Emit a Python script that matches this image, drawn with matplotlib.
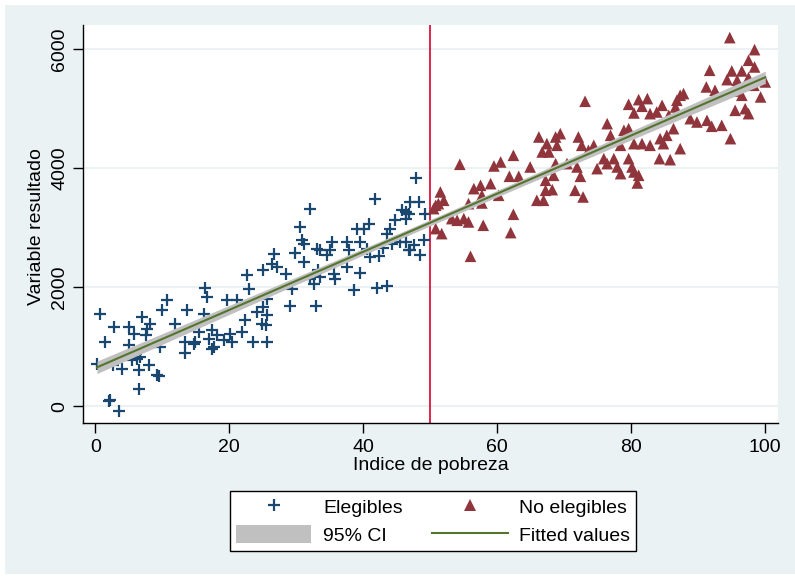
import numpy as np
import matplotlib
matplotlib.use('Agg')
import matplotlib.pyplot as plt
from matplotlib.lines import Line2D
from matplotlib.patches import Patch, Rectangle

plt.rcParams['font.family'] = ['Liberation Sans', 'DejaVu Sans']
plt.rcParams['font.size'] = 14

# observations below the cutoff (poverty index < 50)
ELIG_X = [47.9, 41.7, 32.1, 47.0, 48.3, 45.8, 46.3, 46.8, 44.8, 49.2, 46.3,
          30.6, 30.8, 31.2, 39.0, 40.1, 40.9, 44.0, 43.5, 35.3, 33.1, 33.6,
          34.6, 35.1, 37.6, 39.5, 37.8, 40.5, 29.8, 31.1, 26.6, 26.4, 27.1,
          25.0, 28.4, 22.6, 22.9, 41.0, 42.3, 43.0, 44.3, 45.5, 46.3, 47.5,
          46.8, 49.0, 48.4, 33.3, 33.6, 35.6, 35.8, 37.6, 39.5, 32.1, 32.6,
          38.6, 42.0, 43.5, 29.4, 29.1, 32.9, 16.3, 16.7, 19.7, 21.1, 25.6,
          25.0, 24.1, 22.4, 24.9, 25.6, 25.4, 10.7, 9.9, 13.7, 16.2, 11.9,
          15.4, 17.4, 16.9, 18.2, 19.2, 20.1, 20.4, 21.9, 23.5, 25.6, 17.7,
          17.4, 13.4, 14.7, 14.9, 13.4, 0.75, 2.8, 5.0, 7.0, 8.2, 7.7, 5.7,
          1.5, 7.5, 9.7, 5.0, 6.0, 5.5, 6.2, 6.7, 0.25, 2.7, 4.0, 6.5, 8.0,
          9.2, 9.45, 6.5, 2.2, 2.0, 3.6, 47.0]
ELIG_Y = [3830, 3490, 3311, 3434, 3434, 3294, 3266, 3238, 3126, 3238, 3154,
          3014, 2790, 2734, 2986, 2986, 3059, 2986, 2902, 2762, 2650, 2622,
          2538, 2622, 2762, 2762, 2622, 2650, 2577, 2426, 2566, 2398, 2342,
          2286, 2230, 2202, 1978, 2510, 2521, 2667, 2734, 2762, 2762, 2706,
          2633, 2790, 2549, 2286, 2174, 2230, 2146, 2342, 2241, 2146, 2062,
          1950, 1994, 2017, 1978, 1686, 1686, 1994, 1837, 1781, 1781, 1809,
          1669, 1585, 1445, 1389, 1529, 1361, 1781, 1613, 1613, 1557, 1389,
          1249, 1277, 1137, 1193, 1109, 1221, 1081, 1249, 1081, 1081, 997,
          969, 1081, 1053, 1081, 896, 1557, 1333, 1333, 1501, 1389, 1305, 1221,
          1081, 1193, 997, 1025, 885, 773, 801, 829, 717, 689, 633, 605, 689,
          521, 504, 297, 101, 89, -84, 2622]

# observations above the cutoff
NOELIG_X = [94.7, 98.4, 97.5, 98.4, 91.7, 95.0, 96.5, 94.3, 95.8, 97.5, 98.3,
            100.0, 91.2, 92.5, 95.3, 96.5, 99.3, 95.5, 97.0, 97.5, 94.8, 73.1,
            79.6, 81.1, 82.4, 80.4, 81.6, 82.8, 83.8, 84.6, 86.6, 87.3, 87.8,
            86.8, 85.6, 88.8, 89.8, 91.3, 92.0, 93.5, 87.3, 85.8, 84.2, 76.4,
            76.9, 78.9, 79.6, 78.4, 80.4, 81.6, 82.8, 84.3, 85.3, 84.8, 86.3,
            66.2, 67.4, 68.7, 69.4, 68.9, 66.7, 67.7, 72.1, 72.6, 74.4, 73.6,
            74.9, 75.9, 77.4, 76.4, 77.9, 78.4, 79.6, 80.1, 81.1, 80.4, 80.9,
            64.9, 68.7, 70.4, 71.9, 72.4, 68.4, 67.2, 68.2, 67.2, 65.9, 66.9,
            71.6, 72.8, 62.4, 59.5, 60.5, 54.4, 61.8, 63.2, 56.5, 57.5, 59.0,
            57.7, 60.2, 55.7, 57.7, 51.5, 52.0, 50.8, 51.2, 50.5, 53.2, 54.0,
            55.0, 55.7, 57.9, 62.4, 50.8, 51.7, 62.0, 56.0]
NOELIG_Y = [6196, 5994, 5815, 5703, 5647, 5636, 5636, 5490, 5479, 5523, 5395,
            5451, 5367, 5311, 5299, 5227, 5199, 4974, 5002, 4918, 4498, 5126,
            5075, 5154, 5171, 4930, 5042, 4918, 4946, 5058, 5030, 5227, 5255,
            5143, 4890, 4834, 4778, 4806, 4706, 4722, 4330, 4145, 4162, 4750,
            4554, 4638, 4666, 4386, 4414, 4414, 4386, 4498, 4554, 4414, 4666,
            4526, 4414, 4526, 4582, 4386, 4274, 4274, 4526, 4386, 4386, 4302,
            3994, 4162, 4162, 4078, 4022, 3910, 4162, 4022, 3882, 3938, 3753,
            4022, 4078, 4078, 4022, 3865, 3882, 3798, 3641, 3630, 3462, 3462,
            3630, 3518, 4218, 4039, 4106, 4067, 3865, 3865, 3658, 3714, 3742,
            3546, 3546, 3406, 3417, 3602, 3462, 3378, 3406, 3322, 3154, 3126,
            3154, 3098, 3042, 3227, 2986, 2902, 2919, 2521]

CUTOFF = 50
X_TICKS = [0, 20, 40, 60, 80, 100]
Y_TICKS = [0, 2000, 4000, 6000]

BG = '#eaf2f3'
BLUE = '#1a476f'
MAROON = '#90353b'
GREEN = '#55752f'
CI_GRAY = '#c0c0c0'
RED = '#dc143c'

# linear fit with 95% CI for the mean prediction
x_all = np.array(ELIG_X + NOELIG_X)
y_all = np.array(ELIG_Y + NOELIG_Y)
n = len(x_all)
slope, intercept = np.polyfit(x_all, y_all, 1)
resid = y_all - (intercept + slope * x_all)
s = np.sqrt(np.sum(resid ** 2) / (n - 2))
sxx = np.sum((x_all - x_all.mean()) ** 2)
xf = np.linspace(x_all.min(), x_all.max(), 200)
yf = intercept + slope * xf
half = 1.97 * s * np.sqrt(1.0 / n + (xf - x_all.mean()) ** 2 / sxx)

fig = plt.figure(figsize=(7.95, 5.79), dpi=100, facecolor='white')
fig.patches.append(Rectangle((5 / 795, 5 / 579), 790 / 795, 569 / 579,
                             transform=fig.transFigure, facecolor=BG,
                             edgecolor='none', zorder=-10))
ax = fig.add_axes([83.3 / 795, 1 - 423.3 / 579, (778 - 83.3) / 795, (423.3 - 25) / 579])
ax.set_facecolor('white')

for yt in Y_TICKS:
    ax.axhline(yt, color=BG, lw=1.5, zorder=0)
ax.axvline(CUTOFF, color=RED, lw=1.3, zorder=1)

ax.scatter(ELIG_X, ELIG_Y, marker='+', s=70, color=BLUE, linewidths=1.6, zorder=2)
ax.scatter(NOELIG_X, NOELIG_Y, marker='^', s=70, color=MAROON, edgecolors='none', zorder=2)
ax.fill_between(xf, yf - half, yf + half, color=CI_GRAY, lw=0, zorder=3)
ax.plot(xf, yf, color=GREEN, lw=1.5, zorder=4)

ax.set_xlim(-1.8, 101.9)
ax.set_ylim(-286, 6408)
ax.set_xticks(X_TICKS)
ax.set_yticks(Y_TICKS)
ax.set_yticklabels([str(v) for v in Y_TICKS], rotation=90, va='center')
ax.tick_params(direction='out', length=7, width=1, pad=4, labelsize=14)
for side in ('top', 'right'):
    ax.spines[side].set_visible(False)
for side in ('left', 'bottom'):
    ax.spines[side].set_linewidth(1)

fig.text(37 / 795, 1 - 227 / 579, 'Variable resultado', rotation=90,
         ha='center', va='center', fontsize=14)
fig.text(431 / 795, 1 - 466 / 579, 'Indice de pobreza',
         ha='center', va='center', fontsize=14)

handles = [
    Line2D([], [], marker='+', color=BLUE, ls='none', markersize=9, markeredgewidth=1.6),
    Patch(facecolor=CI_GRAY, edgecolor='none'),
    Line2D([], [], marker='^', color=MAROON, ls='none', markersize=9, markeredgewidth=0),
    Line2D([], [], color=GREEN, lw=1.5),
]
labels = ['Elegibles', '95% CI', 'No elegibles', 'Fitted values']
leg = fig.legend(handles, labels, ncol=2, loc='center',
                 bbox_to_anchor=(433 / 795, 1 - 521 / 579), frameon=True,
                 fancybox=False, edgecolor='black', facecolor='white',
                 framealpha=1, handlelength=3.9, handleheight=1.0,
                 handletextpad=0.6, columnspacing=1.5, labelspacing=0.45,
                 borderpad=0.3, borderaxespad=0, fontsize=14)
leg.get_frame().set_linewidth(1)

fig.savefig('out.png', dpi=100, facecolor=fig.get_facecolor())
